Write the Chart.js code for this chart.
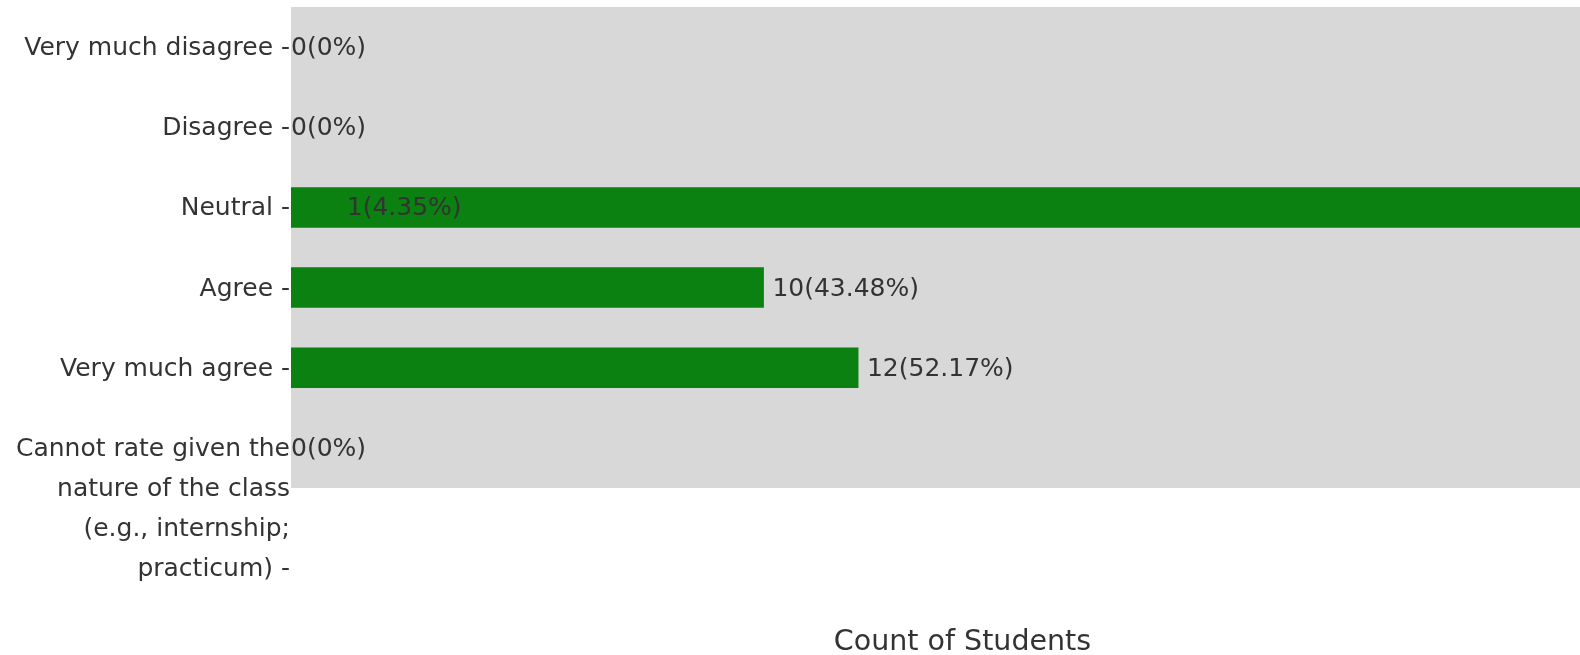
<!DOCTYPE html>
<html>
<head>
<meta charset="utf-8">
<script src="https://cdn.jsdelivr.net/npm/chart.js@4/dist/chart.umd.min.js"></script>
<style>
  html, body { margin: 0; padding: 0; background: #fff; overflow: hidden; }
  #wrap { width: 1634px; height: 655px; }
  canvas { display: block; }
</style>
</head>
<body>
<div id="wrap"><canvas id="chart" width="1634" height="655"></canvas></div>
<script>
// ── DATA ─────────────────────────────────────────────────────────────────────
var categories = [
  'Very much disagree -',
  'Disagree -',
  'Neutral -',
  'Agree -',
  'Very much agree -',
  // blank lines up front so the first line sits on the tick, as in the source
  ['', '', '', 'Cannot rate given the', 'nature of the class', '(e.g., internship;', 'practicum) -']
];
var counts = [0, 0, 1, 10, 12, 0];
// drawn bar lengths; the Neutral bar in the source runs off past the axis end
var barLength = [0, 0, 28.4, 10, 12, 0];
var xMax = 28.4;

var TEXT = '#333333';
var FONT = 'DejaVu Sans';

function _pctLabel(n, total) {
  var p = total ? Math.round(n / total * 10000) / 100 : 0;
  return n + '(' + p + '%)';
}

// ── PLUGINS ──────────────────────────────────────────────────────────────────
var panelBg = {
  id: 'panelBg',
  beforeDraw: function(chart) {
    var a = chart.chartArea, ctx = chart.ctx;
    ctx.save();
    ctx.fillStyle = '#d8d8d8';
    ctx.fillRect(a.left, a.top, a.right - a.left, a.bottom - a.top);
    ctx.restore();
  }
};

var countLabels = {
  id: 'countLabels',
  afterDatasetsDraw: function(chart) {
    var ctx = chart.ctx, xs = chart.scales.x, ys = chart.scales.y;
    var total = counts.reduce(function(s, v) { return s + v; }, 0);
    ctx.save();
    ctx.font = '25px "' + FONT + '"';
    ctx.fillStyle = TEXT;
    ctx.textAlign = 'left';
    ctx.textBaseline = 'middle';
    for (var i = 0; i < counts.length; i++) {
      var x = xs.getPixelForValue(counts[i]) + (counts[i] > 0 ? 8.5 : 0);
      var y = ys.getPixelForValue(i) + 1.5;
      ctx.fillText(_pctLabel(counts[i], total), x, y);
    }
    ctx.restore();
  }
};

// ── CHART ────────────────────────────────────────────────────────────────────
new Chart(document.getElementById('chart'), {
  type: 'bar',
  data: {
    labels: categories,
    datasets: [{
      data: barLength,
      backgroundColor: '#0b8112',
      borderWidth: 0,
      barPercentage: 0.505,
      categoryPercentage: 1
    }]
  },
  plugins: [panelBg, countLabels],
  options: {
    indexAxis: 'y',
    responsive: false,
    animation: false,
    layout: { padding: { top: 7, left: 0, right: 0, bottom: 0 } },
    plugins: { legend: { display: false }, tooltip: { enabled: false } },
    scales: {
      x: {
        min: 0,
        max: xMax,
        grid: { display: false, drawTicks: false },
        border: { display: false },
        ticks: { display: false },
        title: {
          display: true,
          text: 'Count of Students',
          color: TEXT,
          font: { family: FONT, size: 28.5, lineHeight: 0.8 },
          padding: { top: 0, bottom: 1 }
        },
        afterFit: function(s) { s.height = 167; }
      },
      y: {
        grid: { display: false, drawTicks: false },
        border: { display: false },
        ticks: {
          color: TEXT,
          padding: 1,
          autoSkip: false,
          labelOffset: 1.5,
          font: { family: FONT, size: 25, lineHeight: 1.6 }
        },
        afterFit: function(s) { s.width = 291; s.paddingTop = 0; s.paddingBottom = 0; }
      }
    }
  }
});
</script>
</body>
</html>
